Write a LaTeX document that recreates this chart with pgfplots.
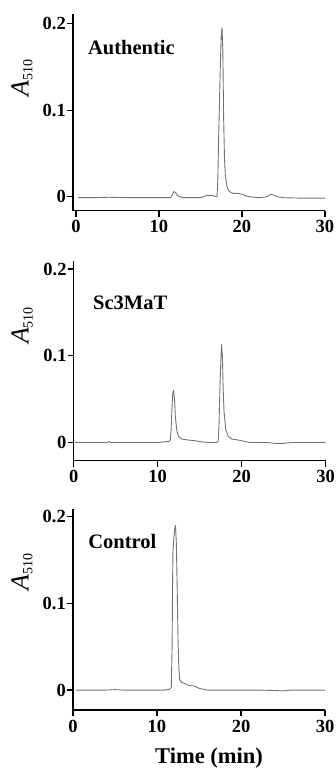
\documentclass[border=0pt]{standalone}
\usepackage{pgfplots}
\pgfplotsset{compat=1.18}
\usepackage{fontspec}
\setmainfont{Liberation Serif}
\pgfplotsset{
  chrom/.style={
    anchor=south west, y=867pt, xmax=30,
    axis lines=left, axis line style={-, line width=1.4pt, black},
    tick align=outside, major tick length=6pt,
    tick style={line width=1.2pt, black},
    xtick={0,10,20,30}, xticklabels={0,10,20,30},
    ytick={0,0.1,0.2}, yticklabels={0,0.1,0.2},
    /pgf/number format/assume math mode=true,
    ticklabel style={font=\fontsize{18.5}{20}\selectfont\bfseries},
    yticklabel style={inner xsep=1pt},
    xticklabel style={inner ysep=0pt, yshift=-3.5pt},
    clip=false,
  },
  trace/.style={black!55, line width=0.9pt, line join=round},
}
\newcommand{\Alab}{\fontsize{26}{28}\selectfont\itshape A\raisebox{-0.15em}{\upshape\fontsize{14}{16}\selectfont 510}}
\newcommand{\ttl}{\fontsize{20.5}{22}\selectfont\bfseries}
\begin{document}
\begin{tikzpicture}
\useasboundingbox (0,0) rectangle (335pt,771pt);
% Panel 1: Authentic
\begin{axis}[chrom, at={(73pt,560.3pt)}, x=8.3pt, xmin=-0.35, ymin=-0.016, ymax=0.211]
\addplot[trace] coordinates {(0.25,-0.001) (2,-0.001) (4,-0.0005) (6,-0.001) (8,-0.001) (10,-0.001) (11.4,-0.001) (11.6,0.002) (11.8,0.006) (12.0,0.005) (12.2,0.002) (12.5,0.000) (13,-0.001) (14,-0.001) (15,-0.001) (15.6,0.001) (15.9,0.002) (16.1,0.001) (16.3,0.002) (16.6,0.001) (17.0,0.0) (17.1,0.02) (17.2,0.07) (17.3,0.11) (17.4,0.15) (17.5,0.185) (17.6,0.195) (17.7,0.17) (17.8,0.09) (17.9,0.045) (18.0,0.025) (18.2,0.012) (18.4,0.007) (18.7,0.005) (19,0.004) (19.5,0.004) (20,0.003) (20.5,0.001) (21,0.0) (22,-0.001) (23,0.0) (23.5,0.003) (23.8,0.002) (24.3,0.0) (25,-0.001) (27,-0.0015) (30,-0.0015)};
\node[anchor=west, inner sep=0pt] at (axis cs:1.45,0.172) {\ttl Authentic};
\node[rotate=90] at (axis cs:-6.5,0.137) {\Alab};
\end{axis}
% Panel 2: Sc3MaT
\begin{axis}[chrom, at={(73.7pt,310.3pt)}, x=8.4pt, xmin=0, ymin=-0.021, ymax=0.209]
\addplot[trace] coordinates {(0.1,0) (2,0) (4,0) (4.2,0.001) (4.4,0) (6,0) (8,0) (10,0) (11,0.001) (11.3,0.001) (11.5,0.003) (11.6,0.015) (11.7,0.04) (11.8,0.058) (11.9,0.06) (12.0,0.05) (12.1,0.03) (12.3,0.012) (12.5,0.007) (12.8,0.004) (13.5,0.003) (14.5,0.002) (15,0.001) (16,0) (17,0) (17.2,0.001) (17.3,0.02) (17.4,0.06) (17.5,0.09) (17.6,0.113) (17.7,0.1) (17.8,0.06) (17.9,0.035) (18.1,0.015) (18.4,0.007) (18.8,0.004) (19.5,0.003) (20,0.002) (20.5,0.001) (21,0) (23,0) (24,-0.001) (25,-0.001) (26,0) (28,0) (30,0)};
\node[anchor=west, inner sep=0pt] at (axis cs:2.3,0.161) {\ttl Sc3MaT};
\node[rotate=90] at (axis cs:-6.15,0.135) {\Alab};
\end{axis}
% Panel 3: Control
\begin{axis}[chrom, at={(73pt,61pt)}, x=8.4pt, xmin=0, ymin=-0.023, ymax=0.209]
\addplot[trace] coordinates {(0.3,0) (2,0) (4,0) (5,0.0005) (6,0) (8,0) (10,0) (11,0) (11.5,0.001) (11.7,0.003) (11.8,0.05) (11.85,0.12) (11.9,0.16) (12.0,0.175) (12.1,0.185) (12.2,0.19) (12.3,0.17) (12.4,0.12) (12.5,0.06) (12.6,0.025) (12.7,0.012) (12.9,0.009) (13.2,0.008) (13.6,0.006) (14.0,0.005) (14.3,0.005) (14.6,0.004) (15.0,0.002) (15.5,0.001) (16,0) (18,0) (20,0) (22,0) (24,-0.0005) (25,-0.001) (26,0) (28,0) (30,0)};
\node[anchor=west, inner sep=0pt] at (axis cs:1.8,0.171) {\ttl Control};
\node[rotate=90] at (axis cs:-6.07,0.136) {\Alab};
\end{axis}
\node[anchor=base] at (209pt,7.7pt) {\fontsize{22.5}{24}\selectfont\bfseries Time (min)};
\end{tikzpicture}
\end{document}
